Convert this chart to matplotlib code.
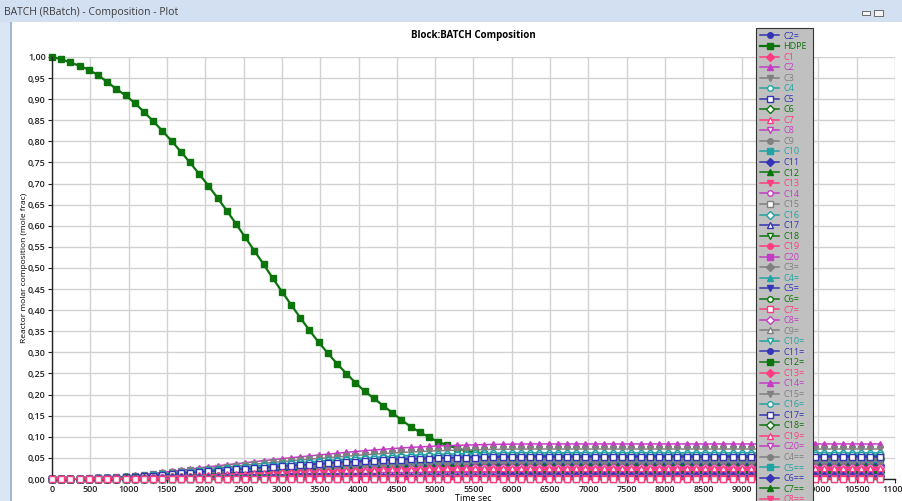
import numpy as np
import matplotlib.pyplot as plt
from matplotlib.patches import Rectangle
from matplotlib.ticker import FuncFormatter, MultipleLocator

plt.rcParams['font.family'] = ['Open Sans', 'DejaVu Sans']

# time grid of the simulation (sec)
time_s = np.arange(0, 10801, 120)

# HDPE mole fraction
hdpe = [1.000, 0.995, 0.987, 0.979, 0.970, 0.957, 0.941, 0.924, 0.909, 0.891,
        0.870, 0.848, 0.825, 0.801, 0.776, 0.750, 0.723, 0.695, 0.666, 0.636,
        0.605, 0.573, 0.541, 0.509, 0.476, 0.444, 0.413, 0.382, 0.352, 0.324,
        0.298, 0.273, 0.250, 0.228, 0.208, 0.191, 0.174, 0.157, 0.140, 0.124,
        0.111, 0.099, 0.088, 0.080, 0.073, 0.067, 0.063, 0.060, 0.058, 0.057,
        0.056] + [0.055] * 40

# product build-up, fraction of the final value
rise = [0.000, 0.001, 0.004, 0.009, 0.017, 0.028, 0.042, 0.058, 0.076, 0.100,
        0.128, 0.157, 0.189, 0.221, 0.253, 0.285, 0.317, 0.348, 0.377, 0.406,
        0.435, 0.464, 0.493, 0.522, 0.551, 0.580, 0.607, 0.633, 0.659, 0.685,
        0.710, 0.735, 0.760, 0.784, 0.807, 0.828, 0.849, 0.868, 0.886, 0.902,
        0.917, 0.930, 0.942, 0.952, 0.961, 0.969, 0.976, 0.982, 0.987, 0.992,
        0.996, 0.999, 1.000] + [1.0] * 38

names = ["C2=", "HDPE", "C1", "C2", "C3", "C4", "C5", "C6", "C7", "C8", "C9",
         "C10", "C11", "C12", "C13", "C14", "C15", "C16", "C17", "C18", "C19",
         "C20", "C3=", "C4=", "C5=", "C6=", "C7=", "C8=", "C9=", "C10=", "C11=",
         "C12=", "C13=", "C14=", "C15=", "C16=", "C17=", "C18=", "C19=", "C20=",
         "C4==", "C5==", "C6==", "C7==", "C8==", "C9==", "C10=="]

# final mole fraction of each product (None = HDPE, own list above)
final_frac = [0.012, None, 0.020, 0.083, 0.071, 0.062, 0.054, 0.047, 0.026, 0.041,
              0.044, 0.038, 0.034, 0.030, 0.024, 0.021, 0.019, 0.016, 0.013, 0.011,
              0.009, 0.007, 0.049, 0.040, 0.036, 0.032, 0.000, 0.028, 0.045, 0.058,
              0.015, 0.005, 0.022, 0.018, 0.043, 0.008, 0.052, 0.017, 0.027, 0.010,
              0.003, 0.004, 0.006, 0.002, 0.002, 0.001, 0.001]

colors = ["#3434b4", "#0b750b", "#ff3c82", "#c43cc4", "#808080", "#22a3a3"]
markers = ["o", "s", "D", "^", "v"]

fig = plt.figure(figsize=(9.02, 5.01), dpi=100)

# window chrome
fig.patches.append(Rectangle((0, 1 - 22 / 501), 1, 22 / 501, transform=fig.transFigure,
                             facecolor="#d3e0f1", edgecolor="none", zorder=0))
fig.patches.append(Rectangle((0, 0), 10 / 902, 1 - 22 / 501, transform=fig.transFigure,
                             facecolor="#dbe6f4", edgecolor="none", zorder=0))
fig.patches.append(Rectangle((10 / 902, 0), 1.5 / 902, 1 - 22 / 501, transform=fig.transFigure,
                             facecolor="#9fb6d6", edgecolor="none", zorder=0))
fig.text(4 / 902, 1 - 13 / 501, "BATCH (RBatch) - Composition - Plot", fontsize=7.5,
         color="#3c3c3c", va="center", ha="left")
fig.patches.append(Rectangle((862 / 902, 1 - 15 / 501), 8 / 902, 4 / 501, transform=fig.transFigure,
                             facecolor="#f4f4f4", edgecolor="#555555", lw=0.6))
fig.patches.append(Rectangle((874 / 902, 1 - 16 / 501), 9 / 902, 6 / 501, transform=fig.transFigure,
                             facecolor="#f4f4f4", edgecolor="#555555", lw=0.6))

ax = fig.add_axes([52 / 902, 1 - 479 / 501, 843 / 902, 422 / 501])

for i, name in enumerate(names):
    c = colors[i % 6]
    m = markers[i % 5]
    hollow = (i // 5) % 2 == 1
    if name == "HDPE":
        y = np.array(hdpe)
        ax.plot(time_s, y, color=c, marker=m, ms=5, lw=1.6, label=name,
                zorder=2.01, clip_on=False)
        continue
    y = final_frac[i] * np.array(rise)
    ax.plot(time_s, y, color=c, marker=m, ms=4, lw=1.1, label=name,
            mfc="white" if hollow else c, mew=1.0,
            zorder=3.5 if name == "C7=" else 2 + i / 100, clip_on=False)

ax.set_xlim(0, 11000)
ax.set_ylim(0, 1.0)
ax.xaxis.set_major_locator(MultipleLocator(500))
ax.yaxis.set_major_locator(MultipleLocator(0.05))
ax.yaxis.set_major_formatter(FuncFormatter(lambda v, _: f"{v:.2f}".replace(".", ",")))
ax.xaxis.set_major_formatter(FuncFormatter(lambda v, _: f"{v:.0f}"))
ax.tick_params(labelsize=6.5, length=3, width=0.8, pad=1.5, colors="#222222")
for lab in ax.get_xticklabels() + ax.get_yticklabels():
    lab.set_fontweight("semibold")
ax.grid(True, color="#d2d2d2", lw=1.0)
ax.set_axisbelow(True)
for s in ["top", "right"]:
    ax.spines[s].set_visible(False)
for s in ["left", "bottom"]:
    ax.spines[s].set_color("#222222")
    ax.spines[s].set_linewidth(1.0)

ax.set_title("Block:BATCH Composition", fontsize=7, fontweight="bold", pad=14)
ax.set_xlabel("Time sec", fontsize=6.5, labelpad=0)
ax.set_ylabel("Reactor molar composition (mole frac)", fontsize=6, labelpad=0)

leg = fig.legend(loc="upper left", bbox_to_anchor=(756 / 902, 1 - 28 / 501),
                 fontsize=6.5, labelcolor="linecolor", frameon=True, fancybox=False,
                 facecolor="#c0c0c0", edgecolor="#333333", framealpha=1,
                 borderaxespad=0, borderpad=0.4, labelspacing=0.17,
                 handlelength=2.2, handletextpad=0.4)
leg.get_frame().set_linewidth(0.8)

fig.savefig("out.png", dpi=100)
